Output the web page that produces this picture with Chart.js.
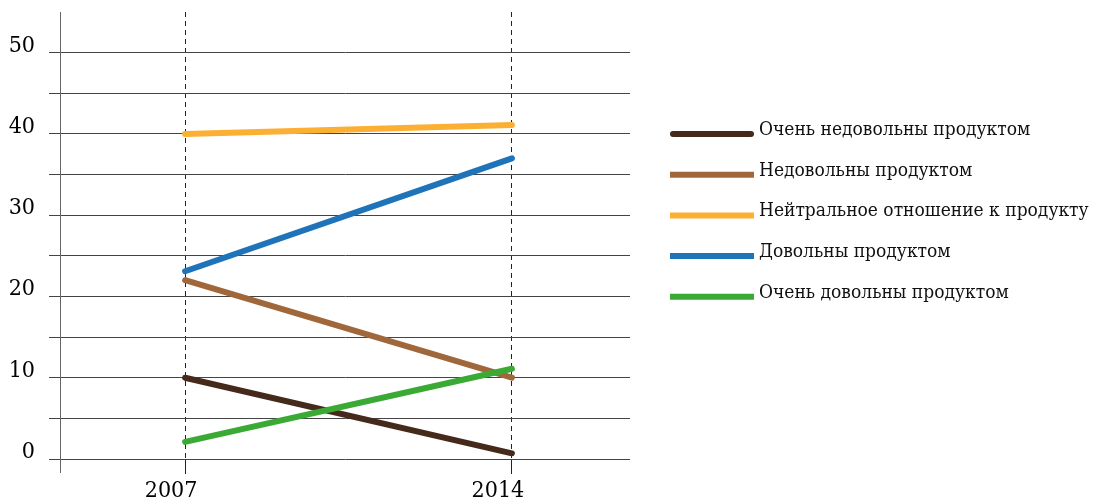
<!DOCTYPE html>
<html lang="ru">
<head>
<meta charset="utf-8">
<title>Удовлетворённость продуктом, 2007–2014</title>
<script src="https://cdn.jsdelivr.net/npm/chart.js@4"></script>
<style>
  html, body { margin: 0; padding: 0; background: #ffffff; }
  #wrap { width: 1093px; height: 500px; position: relative; }
</style>
</head>
<body>
<div id="wrap"><canvas id="chart"></canvas></div>
<script>
// Survey years shown on the horizontal axis
const years = [2007, 2014];

// Share of respondents per answer, %
const veryDissatisfied = [10, 0.7];
const dissatisfied     = [22, 10];
const neutral          = [40, 41.1];
const satisfied        = [23.1, 37];
const verySatisfied    = [2.1, 11.1];

const seriesNames = [
  'Очень недовольны продуктом',
  'Недовольны продуктом',
  'Нейтральное отношение к продукту',
  'Довольны продуктом',
  'Очень довольны продуктом'
];
const seriesValues = [veryDissatisfied, dissatisfied, neutral, satisfied, verySatisfied];
const seriesColors = ['#45291a', '#a0683a', '#fbb034', '#1f73b8', '#3aaa35'];

// Y ticks every 5, labels every 10
const yTicks = [0, 5, 10, 15, 20, 25, 30, 35, 40, 45, 50];

const FONT = '"DejaVu Serif Condensed", "DejaVu Serif", serif';

const datasets = seriesValues.map((vals, i) => ({
  label: seriesNames[i],
  data: years.map((yr, j) => ({ x: yr, y: vals[j] })),
  borderColor: seriesColors[i],
  backgroundColor: seriesColors[i],
  borderWidth: 6,
  borderCapStyle: 'round',
  pointRadius: 0,
  pointHoverRadius: 0,
  tension: 0,
  clip: false,
  order: seriesValues.length - i
}));

// Y axis line continues a little below the zero line
const axisTail = {
  id: 'axisTail',
  afterDraw(chart) {
    const { ctx, chartArea } = chart;
    ctx.save();
    ctx.strokeStyle = '#666666';
    ctx.lineWidth = 1;
    ctx.beginPath();
    ctx.moveTo(chartArea.left + 0.5, chartArea.bottom);
    ctx.lineTo(chartArea.left + 0.5, chartArea.bottom + 14);
    ctx.stroke();
    ctx.restore();
  }
};

// Legend column to the right of the plot
const sideLegend = {
  id: 'sideLegend',
  afterDraw(chart) {
    const { ctx, chartArea } = chart;
    const x0 = chartArea.right + 40;
    const sampleW = 84;
    const y0 = chartArea.top + 122;
    const step = 40.7;
    ctx.save();
    ctx.font = '19px ' + FONT;
    ctx.textBaseline = 'alphabetic';
    ctx.textAlign = 'left';
    chart.data.datasets.forEach((ds, i) => {
      const y = y0 + i * step;
      ctx.strokeStyle = ds.borderColor;
      ctx.lineWidth = 6;
      ctx.lineCap = i === 0 ? 'round' : 'butt';
      ctx.beginPath();
      ctx.moveTo(x0 + (i === 0 ? 3 : 0), y);
      ctx.lineTo(x0 + sampleW - (i === 0 ? 3 : 0), y);
      ctx.stroke();
      ctx.fillStyle = '#111111';
      ctx.fillText(ds.label, x0 + sampleW + 5, y + 1);
    });
    ctx.restore();
  }
};

new Chart(document.getElementById('chart'), {
  type: 'line',
  data: { datasets },
  options: {
    responsive: true,
    maintainAspectRatio: false,
    animation: false,
    layout: { padding: { top: 12, right: 463, left: 0, bottom: 0 } },
    plugins: {
      legend: { display: false },
      tooltip: { enabled: false }
    },
    scales: {
      x: {
        type: 'linear',
        min: 2004.32,
        max: 2016.53,
        afterBuildTicks: s => { s.ticks = years.map(v => ({ value: v })); },
        afterFit: s => { s.height = 41; s.paddingLeft = 0; s.paddingRight = 0; },
        grid: {
          color: '#222222',
          lineWidth: 1,
          tickLength: 15,
          drawOnChartArea: true
        },
        border: { display: false, dash: [5, 4] },
        ticks: {
          callback: v => String(v),
          font: { family: FONT, size: 23 },
          color: '#000000',
          padding: 3,
          labelOffset: -14,
          maxRotation: 0,
          autoSkip: false
        }
      },
      y: {
        type: 'linear',
        min: 0,
        max: 55,
        afterBuildTicks: s => { s.ticks = yTicks.map(v => ({ value: v })); },
        afterFit: s => { s.width = 60; s.paddingTop = 0; s.paddingBottom = 0; },
        grid: {
          color: '#444444',
          lineWidth: 1,
          tickLength: 11
        },
        border: { display: true, color: '#666666', width: 1 },
        ticks: {
          callback: v => (v % 10 === 0 ? String(v) : ''),
          font: { family: FONT, size: 23 },
          color: '#000000',
          padding: 14,
          labelOffset: -7,
          autoSkip: false
        }
      }
    }
  },
  plugins: [axisTail, sideLegend]
});
</script>
</body>
</html>
